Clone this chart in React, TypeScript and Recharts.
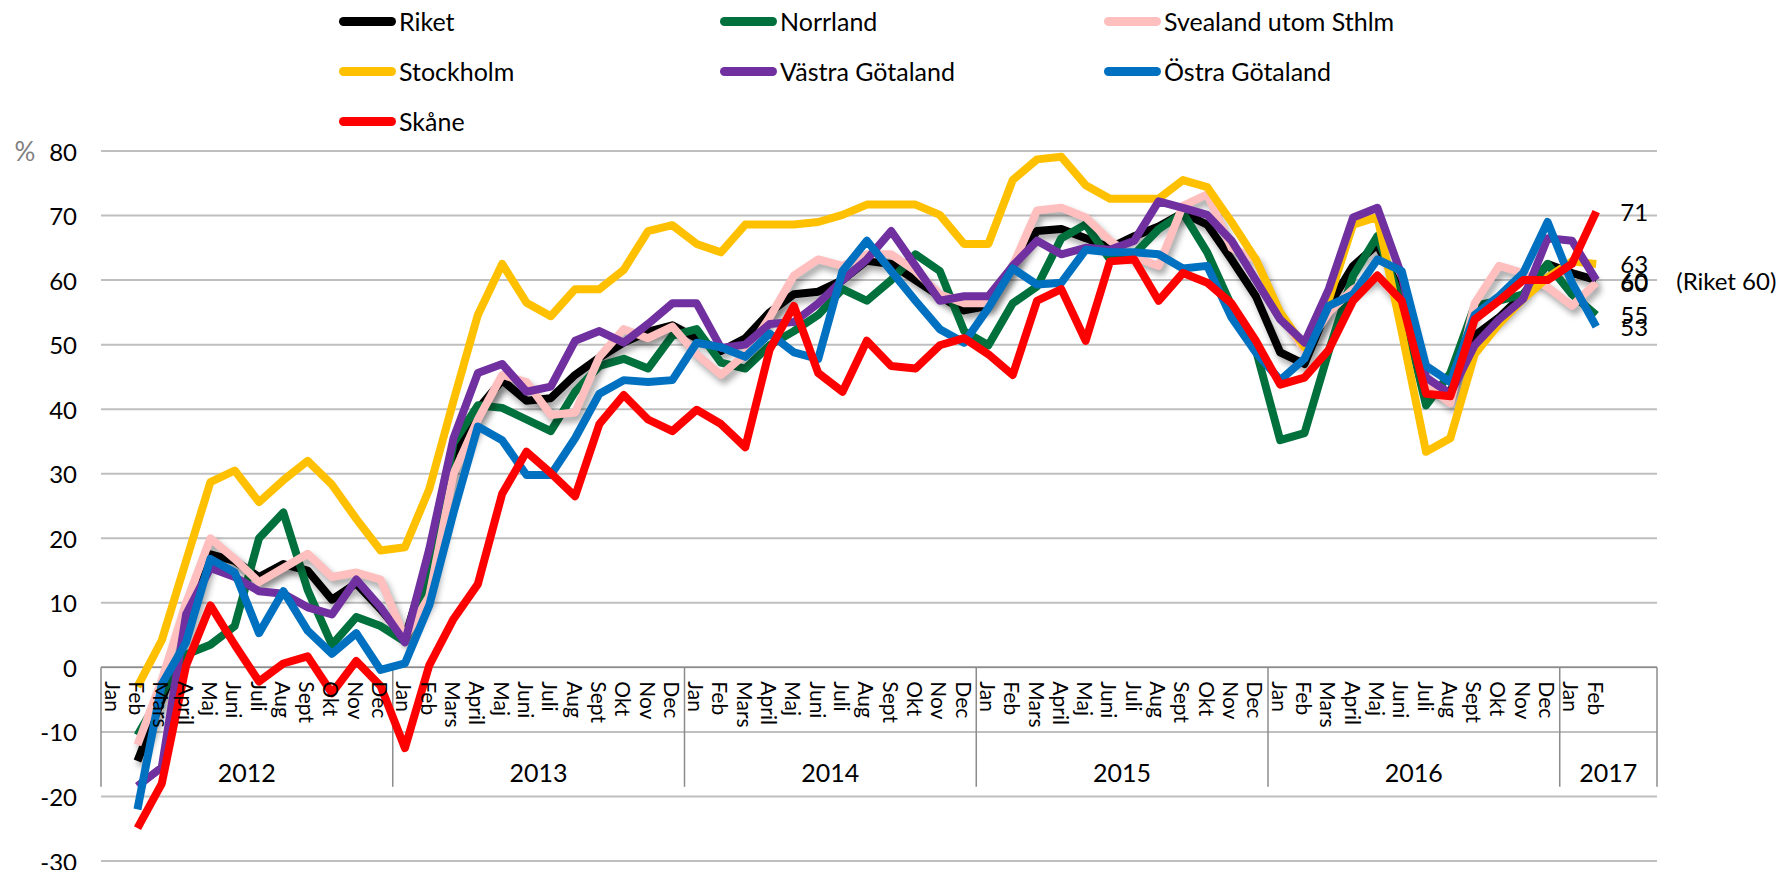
import React from 'react';
import { LineChart, Line, XAxis, YAxis, CartesianGrid, ReferenceLine, ReferenceDot } from 'recharts';

const monthNames = ['Jan', 'Feb', 'Mars', 'April', 'Maj', 'Juni', 'Juli', 'Aug', 'Sept', 'Okt', 'Nov', 'Dec'];
const years = ['2012', '2013', '2014', '2015', '2016', '2017'];
const months2017 = ['Jan', 'Feb', '', ''];
const yTicks = [-30, -20, -10, 0, 10, 20, 30, 40, 50, 60, 70, 80];

// Feb 2012 .. Feb 2017 (61 months)
const riket = [
  -14.5, -5, 4.5, 17.5, 16.5, 14, 16, 15, 10.5, 13, 9,
  4.5, 17, 33, 40, 44.5, 41.3, 41.7, 45.3, 48, 50.3, 52, 53,
  51, 49, 51, 55, 57.8, 58.2, 60, 63, 62.5, 60, 57.5, 55.3,
  56, 62.2, 67.6, 67.9, 66.5, 65, 66.8, 68.3, 70.4, 68.6, 63.2, 57.5,
  48.8, 47, 56, 62.2, 65.5, 57.8, 43.1, 42.7, 51.4, 54.2, 57.8, 62.5,
  61.1, 60,
];
const norrland = [
  -10.5, -4, 2, 3.5, 6.4, 20, 24, 12, 3.5, 7.8, 6.4,
  4, 14, 34.8, 40.6, 40.2, 38.4, 36.6, 42.7, 46.7, 47.8, 46.3, 51.4,
  52.4, 47.2, 46.3, 49.9, 52.1, 54.6, 58.6, 56.8, 60, 64, 61.4, 52.1,
  49.9, 56.4, 59, 66.5, 68.6, 63.2, 64, 67.9, 70.4, 64.3, 56, 49.2,
  35.2, 36.3, 49, 60.7, 66.8, 56.4, 40.6, 45.6, 56, 56.8, 57.8, 62.5,
  57.8, 54.6,
];
const svealand = [
  -12, -2, 10, 20, 16.8, 13.2, 15.4, 17.6, 14, 14.7, 13.6,
  4.6, 11, 30, 38.4, 45.3, 44.2, 39.1, 39.5, 48.1, 52.4, 51, 52.8,
  48.5, 45.3, 48.5, 54.2, 60.7, 63.2, 62.2, 64, 64, 61.4, 57.8, 56.4,
  56.4, 62.2, 70.8, 71.2, 69.7, 66.1, 63.6, 62.2, 71.5, 73.3, 65, 63.2,
  54.6, 49.2, 55, 58.6, 60.7, 56.4, 43.8, 40.9, 56.4, 62.2, 61.1, 58.9,
  56, 59.6,
];
const stockholm = [
  -3, 4.2, 16.5, 28.7, 30.5, 25.6, 29, 32, 28.3, 23, 18.1,
  18.6, 27.6, 41.3, 54.6, 62.5, 56.5, 54.4, 58.6, 58.6, 61.6, 67.6, 68.5,
  65.6, 64.3, 68.6, 68.6, 68.6, 69, 70.1, 71.7, 71.7, 71.7, 70.1, 65.6,
  65.6, 75.5, 78.7, 79.1, 74.7, 72.6, 72.6, 72.6, 75.5, 74.4, 69, 63.2,
  55, 49.6, 57, 68.6, 69.8, 52, 33.4, 35.5, 48.5, 53.2, 57.1, 60.4,
  62.9, 62.5,
];
const vastra = [
  -18.4, -15.5, 8.2, 15.4, 14, 11.8, 11.4, 9.3, 8.2, 13.6, 9.3,
  3.9, 18.3, 35.5, 45.6, 47, 42.7, 43.5, 50.6, 52.1, 50.3, 53.2, 56.4,
  56.4, 49.5, 50, 53.2, 53.5, 56.4, 60, 63.2, 67.6, 62.2, 56.8, 57.5,
  57.5, 62.2, 66.1, 64, 65, 64.7, 66.1, 72.2, 71.2, 70.1, 66.1, 60,
  53.9, 50.3, 58.6, 69.7, 71.2, 60.7, 44.9, 42.4, 49.9, 53.9, 57.1, 66.5,
  66.1, 60,
];
const ostra = [
  -22, -2.6, 3.9, 16.8, 14.7, 5.3, 11.8, 5.7, 2.1, 5.3, -0.4,
  0.6, 9.6, 24, 37.3, 35.2, 29.8, 29.8, 35.5, 42.4, 44.5, 44.2, 44.5,
  50.3, 49.6, 48.1, 51.7, 48.8, 47.8, 61.4, 66.1, 61.4, 56.8, 52.4, 50.3,
  55.7, 61.8, 59.3, 59.6, 64.7, 64.3, 64.3, 64, 61.8, 62.2, 54.2, 48.8,
  44.5, 47.8, 56, 57.8, 63.2, 61.4, 46.7, 44.2, 54.6, 57.5, 61.1, 69,
  59.6, 52.8,
];
const skane = [
  -24.9, -18, 0.3, 9.6, 3.5, -2.2, 0.6, 1.7, -4, 1, -2.9,
  -12.5, 0.3, 7.5, 12.9, 26.9, 33.4, 30.1, 26.5, 37.7, 42.2, 38.4, 36.6,
  39.9, 37.7, 34.1, 49.2, 56, 45.6, 42.7, 50.6, 46.7, 46.3, 49.9, 51,
  48.5, 45.3, 56.8, 58.6, 50.6, 62.9, 63.2, 56.8, 61.1, 59.6, 56.4, 50.6,
  43.8, 44.9, 49.2, 56.8, 60.7, 56.8, 42.4, 42, 53.9, 56.8, 60, 60,
  62.5, 70.6,
];

const series = [
  { key: 'riket', name: 'Riket', color: '#000000', values: riket, shadow: true, endLabel: (v: number) => `(Riket ${Math.round(v)})`, endOffset: 80 },
  { key: 'norrland', name: 'Norrland', color: '#00703C', values: norrland, shadow: false, endLabel: (v: number) => `${Math.round(v)}`, endOffset: 24 },
  { key: 'svealand', name: 'Svealand utom Sthlm', color: '#FFBFBF', values: svealand, shadow: true, endLabel: (v: number) => `${Math.round(v)}`, endOffset: 24 },
  { key: 'stockholm', name: 'Stockholm', color: '#FFC000', values: stockholm, shadow: false, endLabel: (v: number) => `${Math.round(v)}`, endOffset: 24 },
  { key: 'vastra', name: 'Västra Götaland', color: '#7030A0', values: vastra, shadow: false, endLabel: (v: number) => `${Math.round(v)}`, endOffset: 24 },
  { key: 'ostra', name: 'Östra Götaland', color: '#0070C0', values: ostra, shadow: false, endLabel: (v: number) => `${Math.round(v)}`, endOffset: 24 },
  { key: 'skane', name: 'Skåne', color: '#FF0000', values: skane, shadow: false, endLabel: (v: number) => `${Math.round(v)}`, endOffset: 24 },
];

// categories: Jan 2012 .. Apr 2017 (64 slots), data starts at Feb 2012 (slot 1)
const categories: { label: string; year: string }[] = [];
years.forEach((y) => {
  const list = y === '2017' ? months2017 : monthNames;
  list.forEach((m) => categories.push({ label: m, year: y }));
});
const nSlots = categories.length;
const firstSlot = 1;

const data = riket.map((_, i) => {
  const row: Record<string, number> = { x: firstSlot + i + 0.5 };
  series.forEach((s) => { row[s.key] = s.values[i]; });
  return row;
});
const lastIndex = data.length - 1;

const yearGroups = years.map((y) => {
  const idx = categories.map((c, i) => (c.year === y ? i : -1)).filter((i) => i >= 0);
  return { year: y, start: idx[0], end: idx[idx.length - 1] + 1 };
});
const boundaries = Array.from(new Set(yearGroups.flatMap((g) => [g.start, g.end])));

const FONT = 'Lato, "DejaVu Sans", sans-serif';

const YTick = (props: any) => {
  const { x, y, payload } = props;
  return (
    <g>
      <text x={x} y={y} textAnchor="end" dominantBaseline="central" fontSize={24} fontFamily={FONT} fill="#000">
        {payload.value}
      </text>
      {payload.value === 80 ? (
        <text x={x - 52} y={y} textAnchor="middle" dominantBaseline="central" fontSize={26} fontFamily={FONT} fill="#808080">%</text>
      ) : null}
    </g>
  );
};

const monthShape = (label: string) => (p: any) => {
  const tx = p.cx;
  const ty = p.cy + 14;
  return (
    <text x={tx} y={ty} transform={`rotate(90 ${tx} ${ty})`} dominantBaseline="central" fontSize={21} fontFamily={FONT} fill="#000">
      {label}
    </text>
  );
};

const yearShape = (label: string) => (p: any) => (
  <text x={p.cx} y={p.cy} textAnchor="middle" dominantBaseline="central" fontSize={25} fontFamily={FONT} fill="#000">
    {label}
  </text>
);

const endLabel = (s: typeof series[number]) => (p: any) => {
  if (p.index !== lastIndex) return <g />;
  return (
    <text x={p.x + s.endOffset} y={p.y} dominantBaseline="central" fontSize={24} fontFamily={FONT} fill="#000">
      {s.endLabel(Number(p.value))}
    </text>
  );
};

const legendCols = [339, 720, 1104];
const legendRows = [21, 71, 121];

export default function App() {
  return (
    <div style={{ position: 'absolute', left: 0, top: 0, width: 1777, height: 870, background: '#fff' }}>
      <style>{`.shadowed { filter: drop-shadow(3px 5px 3px rgba(0,0,0,0.35)); }`}</style>
      {series.map((s, i) => (
        <div
          key={s.key}
          style={{
            position: 'absolute',
            left: legendCols[i % 3],
            top: legendRows[Math.floor(i / 3)] - 16,
            height: 32,
            display: 'flex',
            alignItems: 'center',
            fontFamily: FONT,
            fontSize: 25,
            color: '#000',
            whiteSpace: 'nowrap',
          }}
        >
          <span style={{ display: 'inline-block', width: 57, height: 9, borderRadius: 5, background: s.color, marginRight: 3 }} />
          <span>{s.name}</span>
        </div>
      ))}
      <LineChart width={1777} height={870} data={data} margin={{ top: 151, right: 120, bottom: 9, left: 0 }}>
        <CartesianGrid vertical={false} stroke="#bfbfbf" strokeWidth={2} />
        <XAxis dataKey="x" type="number" domain={[0, nSlots]} hide />
        <YAxis
          type="number"
          domain={[-30, 80]}
          ticks={yTicks}
          width={101}
          axisLine={false}
          tickLine={false}
          tickSize={0}
          tickMargin={24}
          tick={<YTick />}
          interval={0}
        />
        <ReferenceLine y={0} stroke="#8c8c8c" strokeWidth={1.5} />
        {boundaries.map((b) => (
          <ReferenceLine
            key={`b${b}`}
            segment={[{ x: b, y: 0 }, { x: b, y: -18.5 }]}
            stroke="#8c8c8c"
            strokeWidth={1.5}
          />
        ))}
        {categories.map((c, i) =>
          c.label ? (
            <ReferenceDot key={`m${i}`} x={i + 0.5} y={0} r={1} shape={monthShape(c.label)} />
          ) : null
        )}
        {yearGroups.map((g) => (
          <ReferenceDot key={`y${g.year}`} x={(g.start + g.end) / 2} y={-16.2} r={1} shape={yearShape(g.year)} />
        ))}
        {series.map((s) => (
          <Line
            key={s.key}
            type="linear"
            dataKey={s.key}
            name={s.name}
            stroke={s.color}
            strokeWidth={8}
            strokeLinejoin="round"
            dot={false}
            activeDot={false}
            isAnimationActive={false}
            className={s.shadow ? 'shadowed' : undefined}
            label={endLabel(s)}
          />
        ))}
      </LineChart>
    </div>
  );
}
